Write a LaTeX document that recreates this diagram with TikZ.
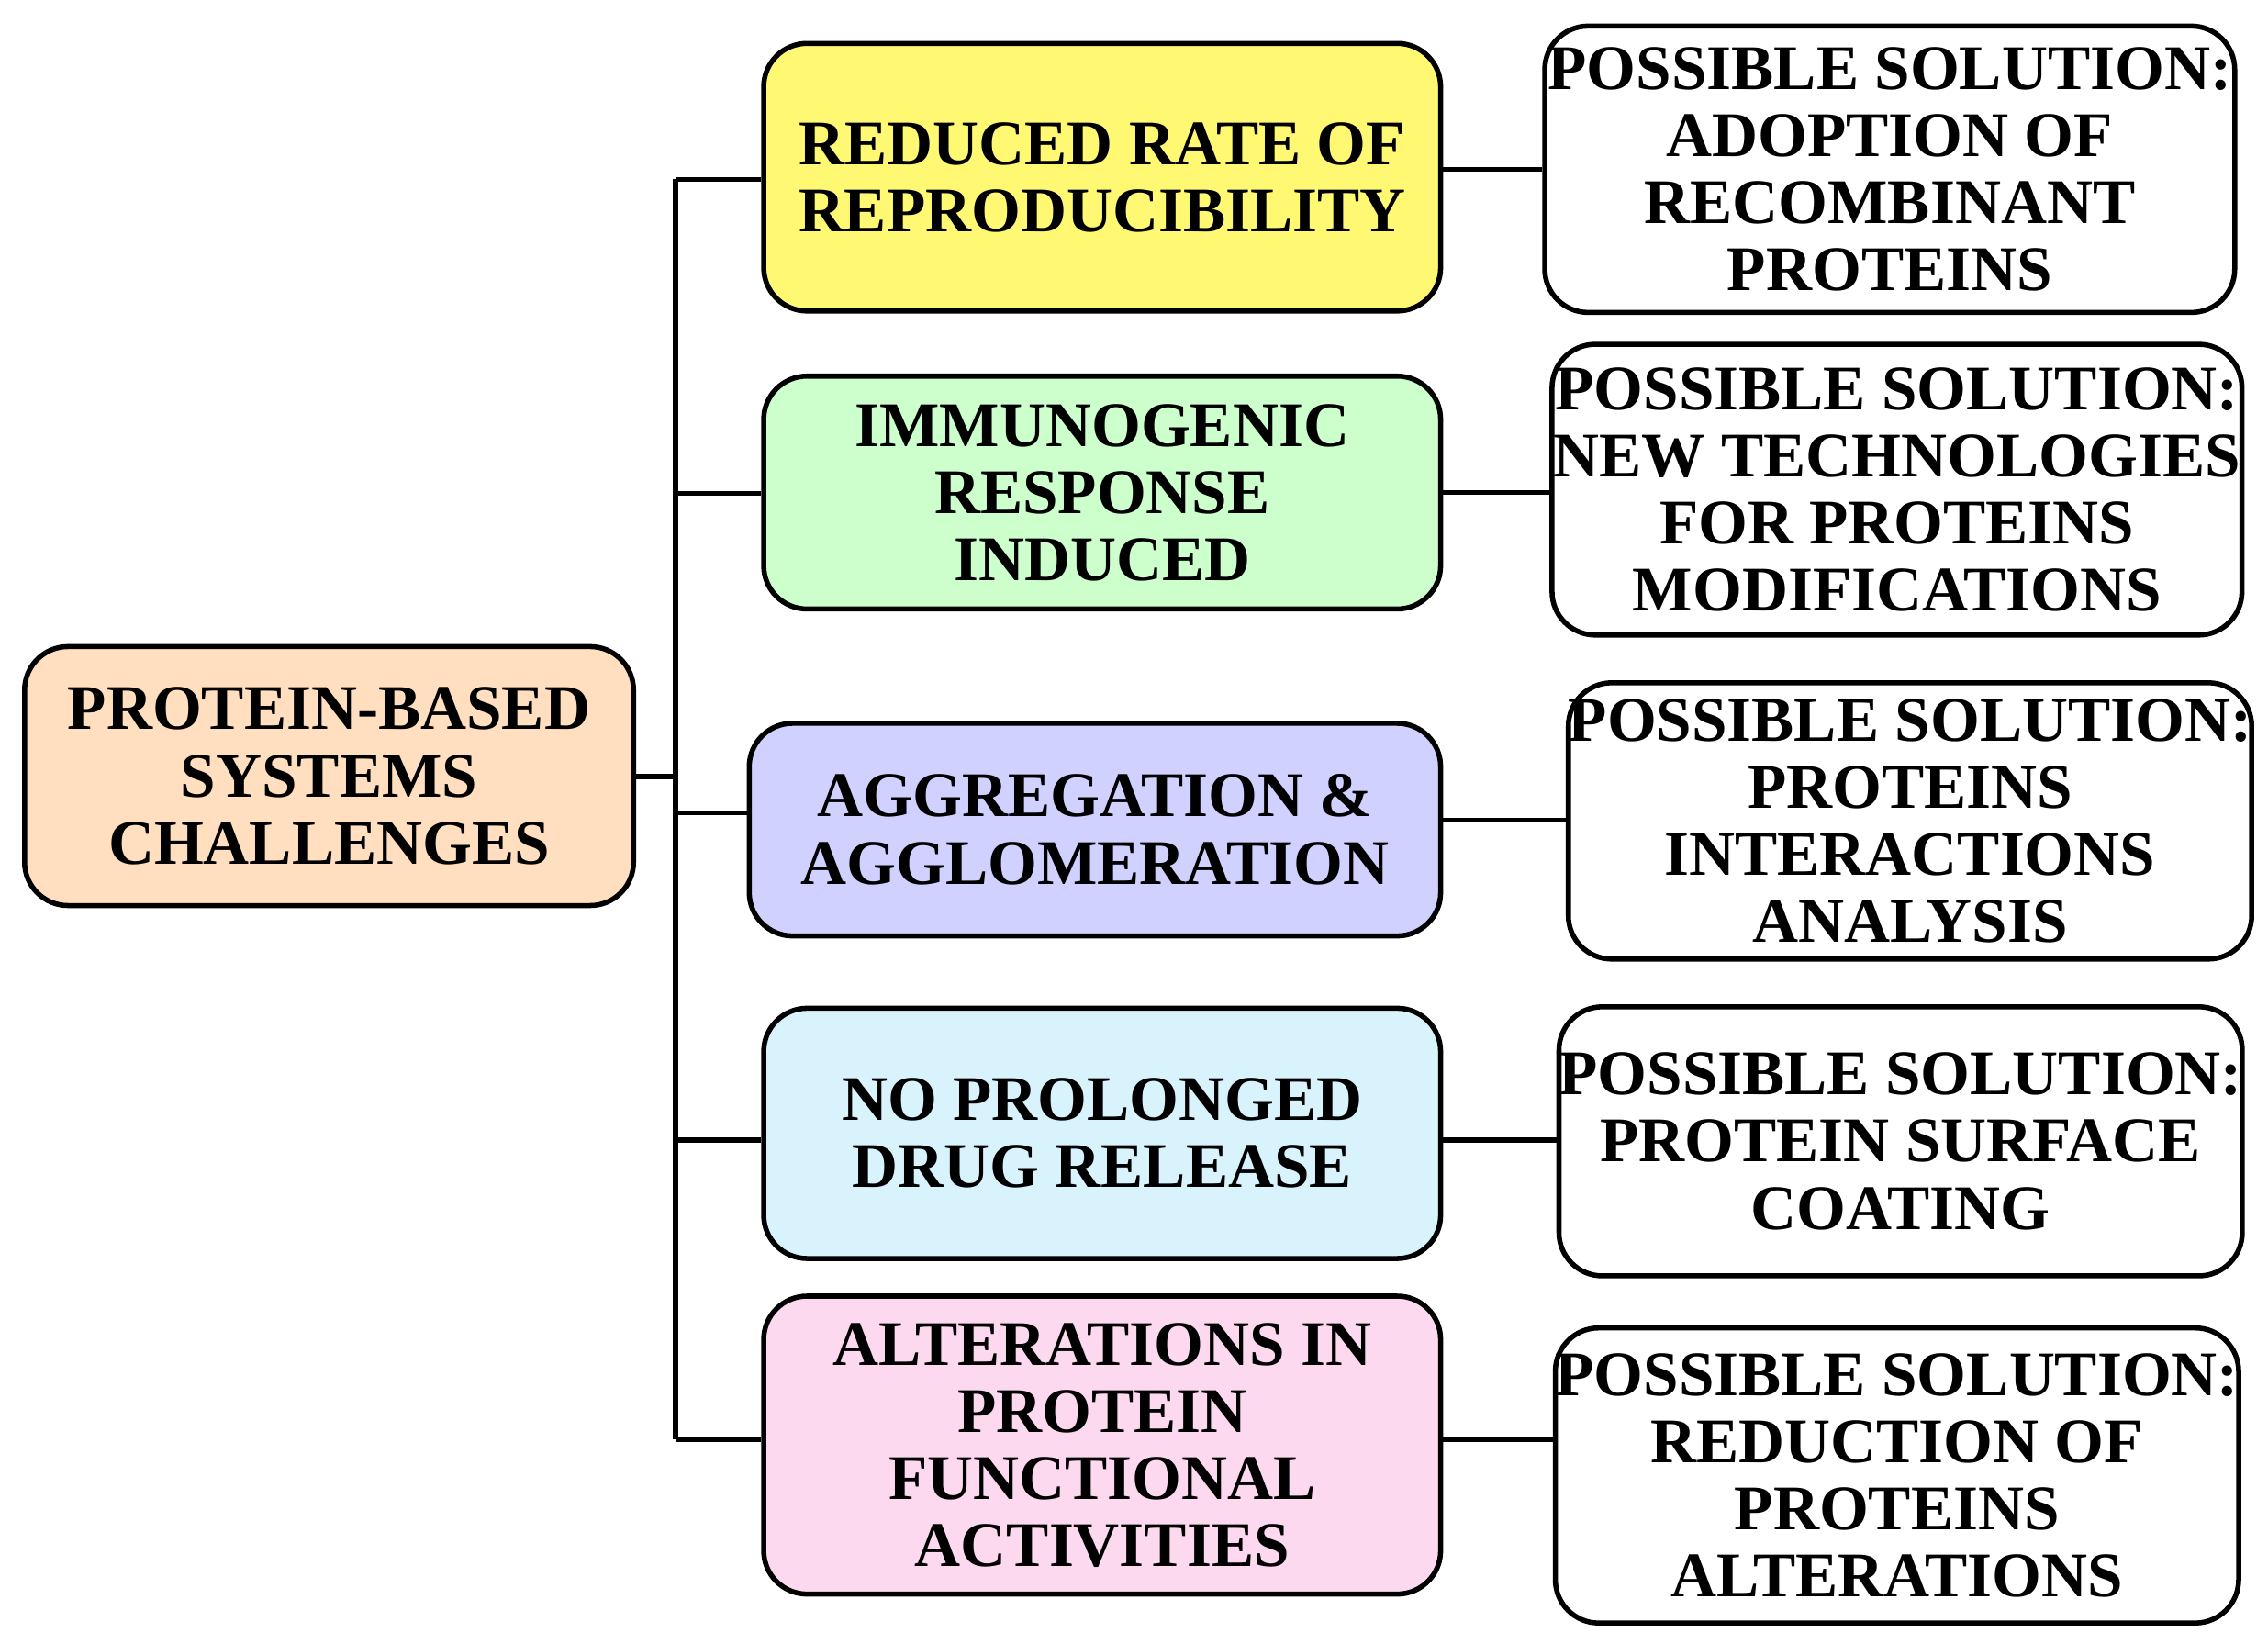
\documentclass[tikz,border=0pt]{standalone}
\usepackage{fontspec}
\setmainfont{Liberation Serif}
\begin{document}
\begin{tikzpicture}[x=0.1mm,y=-0.1mm,
 box/.style={draw=black,line width=1pt,rounded corners=3mm,inner sep=0pt,align=center,font=\bfseries\fontsize{12.5}{13.2}\selectfont},
 ln/.style={line width=1pt}]
\useasboundingbox (0,0) rectangle (1568,1136);
\newcommand\bx[7]{\node[box,fill=#6,minimum width=#3*0.1mm-#1*0.1mm,minimum height=#4*0.1mm-#2*0.1mm] (#5) at ({(#1+#3)/2},{(#2+#4)/2}) {#7};}
\bx{17}{447}{438}{626}{root}{orange!25}{PROTEIN-BASED\\SYSTEMS\\CHALLENGES}
\bx{528}{30}{996}{215}{a}{yellow!55}{REDUCED RATE OF\\REPRODUCIBILITY}
\bx{528}{260}{996}{421}{b}{green!20}{IMMUNOGENIC\\RESPONSE\\INDUCED}
\bx{518}{500}{996}{647}{c}{blue!18}{AGGREGATION \&\\AGGLOMERATION}
\bx{528}{697}{996}{870}{d}{cyan!15}{NO PROLONGED\\DRUG RELEASE}
\bx{528}{896}{996}{1102}{e}{magenta!15}{ALTERATIONS IN\\PROTEIN\\FUNCTIONAL\\ACTIVITIES}
\bx{1068}{18}{1545}{216}{ra}{white}{POSSIBLE SOLUTION:\\ADOPTION OF\\RECOMBINANT\\PROTEINS}
\bx{1073}{238}{1550}{439}{rb}{white}{POSSIBLE SOLUTION:\\NEW TECHNOLOGIES\\FOR PROTEINS\\MODIFICATIONS}
\bx{1085}{472}{1556}{663}{rc}{white}{POSSIBLE SOLUTION:\\PROTEINS\\INTERACTIONS\\ANALYSIS}
\bx{1078}{696}{1550}{882}{rd}{white}{POSSIBLE SOLUTION:\\PROTEIN SURFACE\\COATING}
\bx{1078}{918}{1545}{1122}{re}{white}{POSSIBLE SOLUTION:\\REDUCTION OF\\PROTEINS\\ALTERATIONS}
\coordinate (t1) at (467,124);
\coordinate (t5) at (467,995);
\coordinate (tm) at (467,537);
\draw[ln] (t1) -- (t5);
\draw[ln] (root.east |- tm) -- (tm);
\draw[ln] (t1) -- (a.west |- t1);
\draw[ln] (467,341) -- (b.west |- 0,341);
\draw[ln] (467,562) -- (c.west |- 0,562);
\draw[ln] (467,788) -- (d.west |- 0,788);
\draw[ln] (t5) -- (e.west |- t5);
\draw[ln] (a.east |- 0,117) -- (ra.west |- 0,117);
\draw[ln] (b.east) -- (rb.west |- b.east);
\draw[ln] (c.east |- 0,567) -- (rc.west |- 0,567);
\draw[ln] (d.east |- 0,788) -- (rd.west |- 0,788);
\draw[ln] (e.east |- 0,995) -- (re.west |- 0,995);
\end{tikzpicture}
\end{document}
